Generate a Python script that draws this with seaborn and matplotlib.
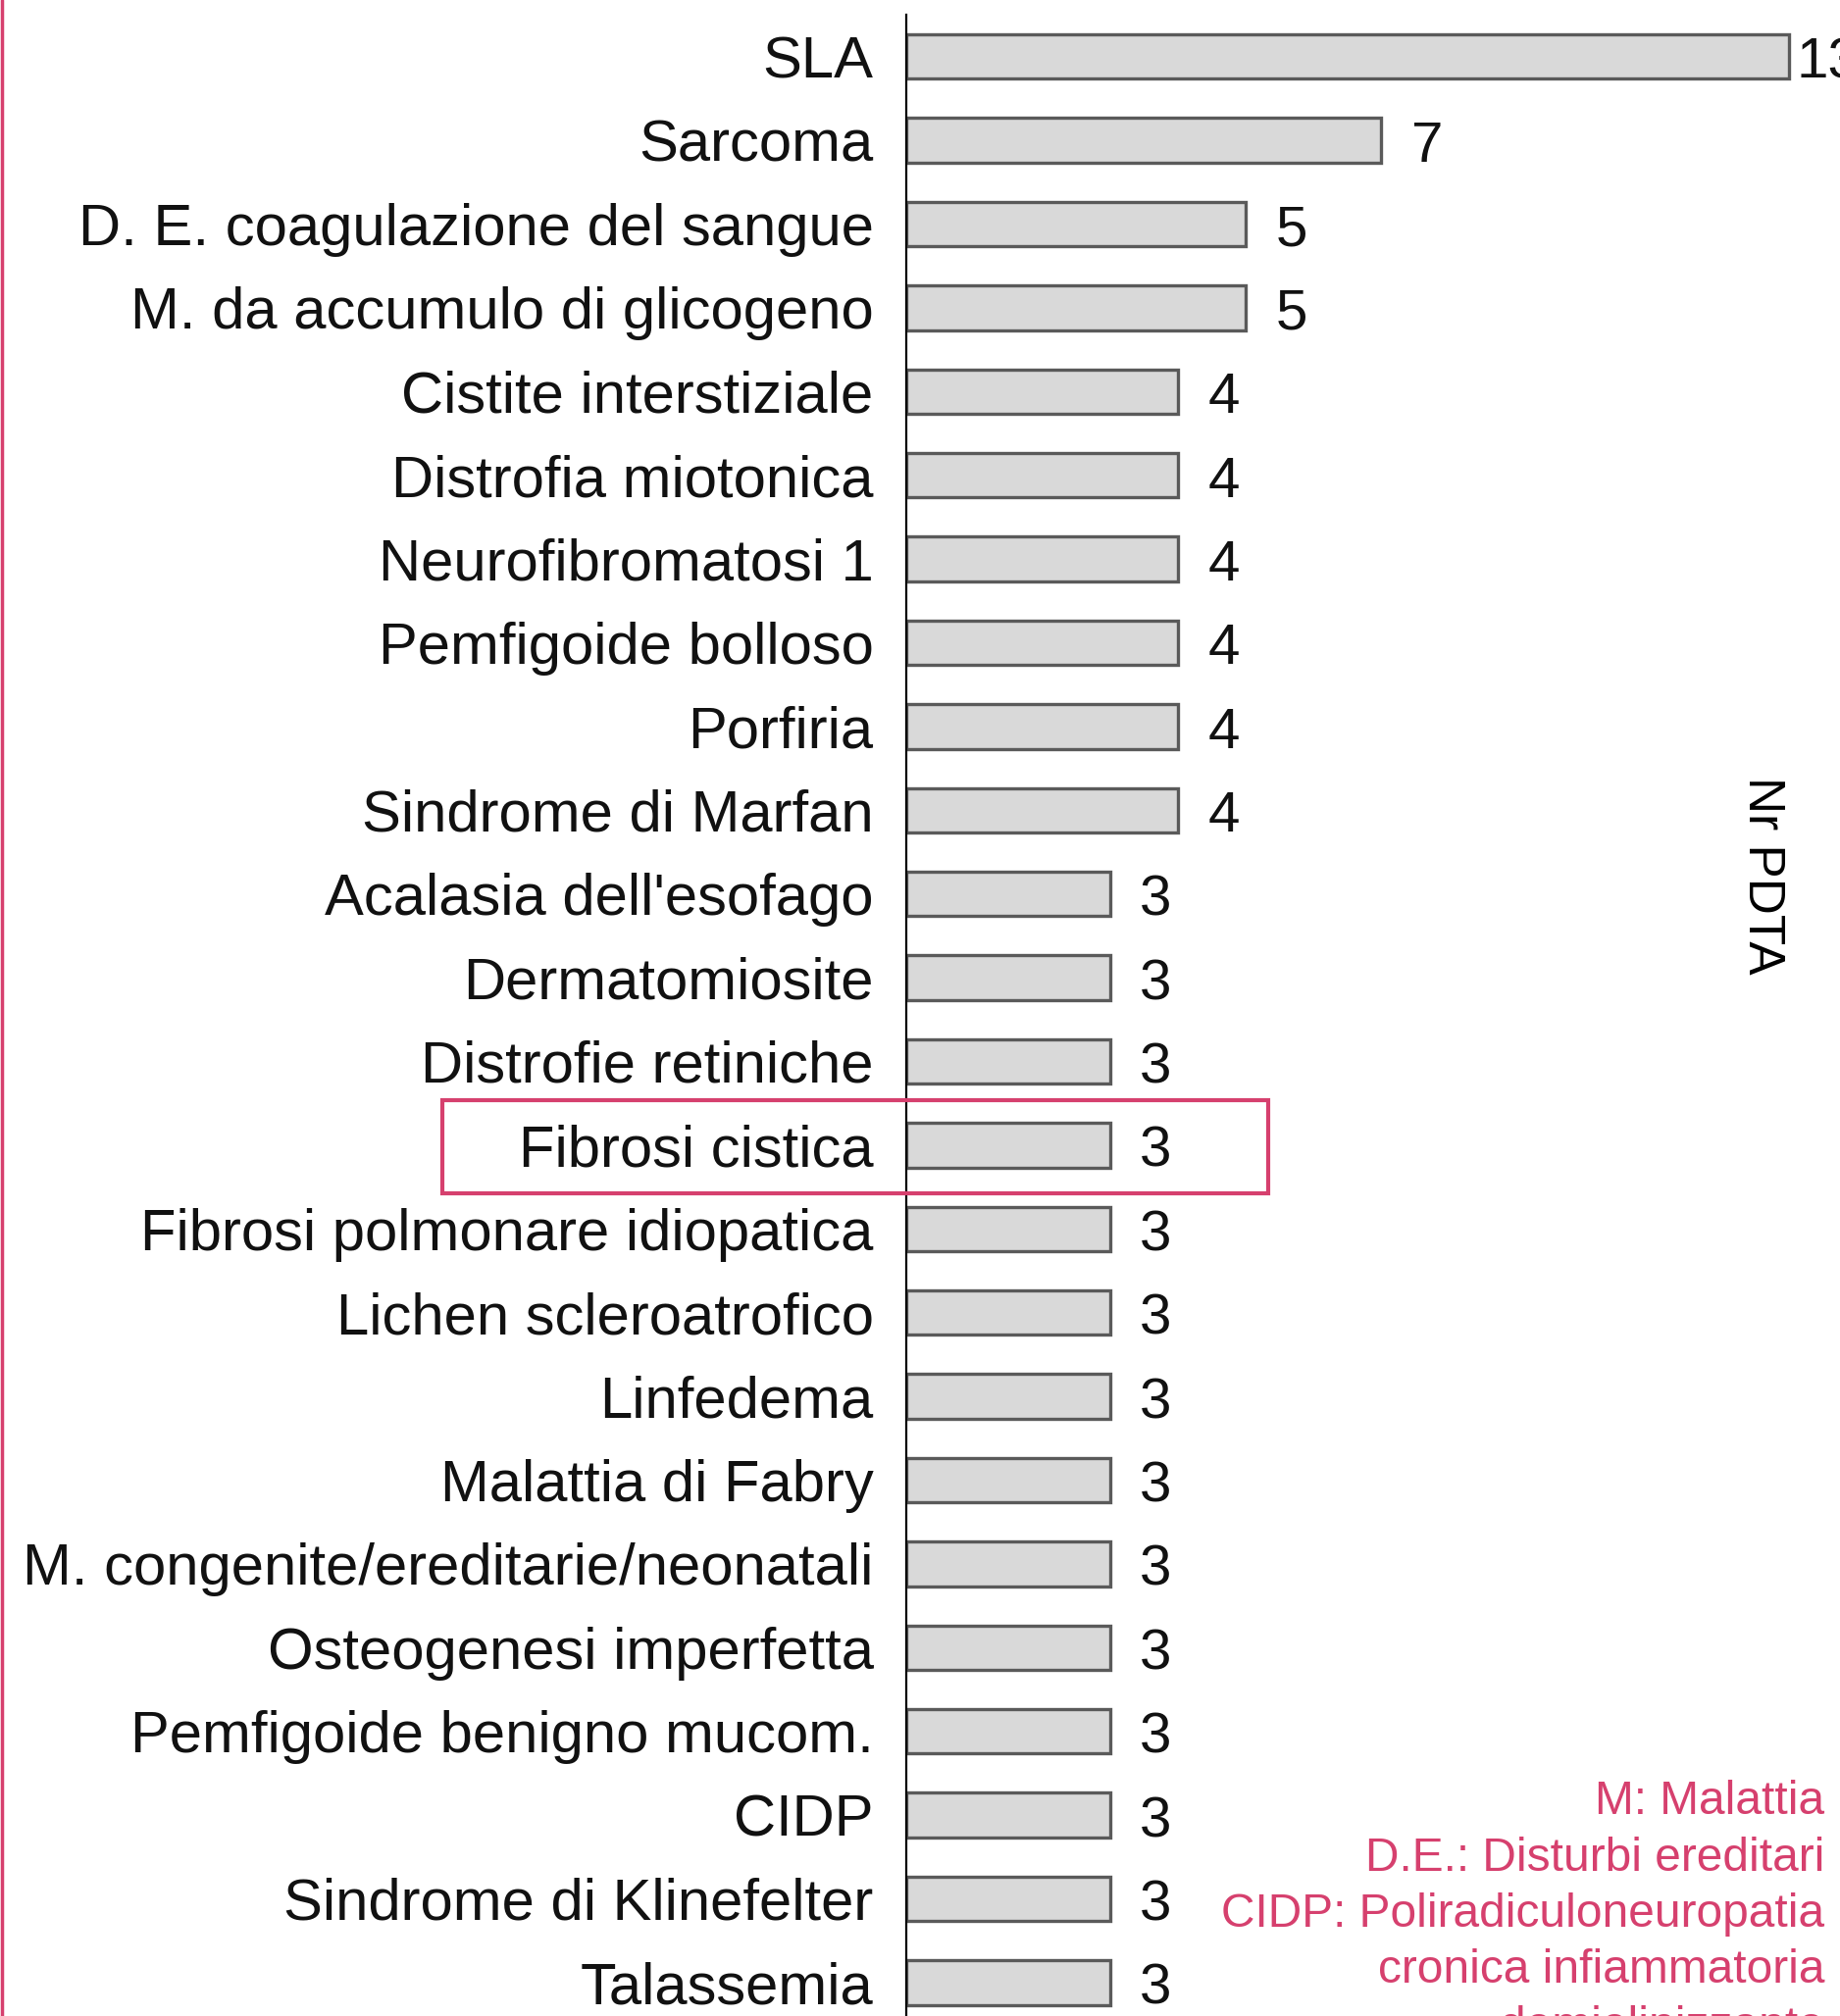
#!/usr/bin/env python3
# Horizontal bar chart: number of PDTA per rare disease

import matplotlib
matplotlib.use("Agg")
import matplotlib.pyplot as plt
from matplotlib.patches import Rectangle
from matplotlib.lines import Line2D
import seaborn as sns

# data
diseases = ["SLA", "Sarcoma", "D. E. coagulazione del sangue", "M. da accumulo di glicogeno",
            "Cistite interstiziale", "Distrofia miotonica", "Neurofibromatosi 1", "Pemfigoide bolloso",
            "Porfiria", "Sindrome di Marfan", "Acalasia dell'esofago", "Dermatomiosite",
            "Distrofie retiniche", "Fibrosi cistica", "Fibrosi polmonare idiopatica",
            "Lichen scleroatrofico", "Linfedema", "Malattia di Fabry",
            "M. congenite/ereditarie/neonatali", "Osteogenesi imperfetta",
            "Pemfigoide benigno mucom.", "CIDP", "Sindrome di Klinefelter", "Talassemia"]
nr_pdta = [13, 7, 5, 5, 4, 4, 4, 4, 4, 4, 3, 3, 3, 3, 3, 3, 3, 3, 3, 3, 3, 3, 3, 3]
highlighted = "Fibrosi cistica"
notes = ["M: Malattia", "D.E.: Disturbi ereditari", "CIDP: Poliradiculoneuropatia",
         "cronica infiammatoria", "demielinizzante"]

pink = "#d6406e"

sns.set_style("white")
plt.rcParams["font.family"] = ["Liberation Sans", "DejaVu Sans"]

W, H = 1876, 2056
fig = plt.figure(figsize=(W / 100, H / 100), dpi=100)

# axes placed in pixels: spine at x=924, rows 85.4 px apart, first row centred at y=57.7
row = 85.4
x0 = 924
px_per_unit = 69.2
xmax = 13.5
top = 57.7 - 0.5 * row
bottom = 57.7 + 23.5 * row
ax = fig.add_axes([x0 / W, 1 - bottom / H, xmax * px_per_unit / W, (bottom - top) / H])

sns.barplot(x=nr_pdta, y=diseases, orient="h", color="#d9d9d9", saturation=1,
            edgecolor="#5a5a5a", linewidth=2.4, width=0.53, ax=ax)

ax.set_xlim(0, xmax)
ax.set_ylim(23.5, -0.5)
ax.set_xlabel("")
ax.set_ylabel("")
ax.set_xticks([])
ax.tick_params(axis="y", length=0, pad=24, labelsize=43, labelcolor="#111111")
for side in ("top", "right", "bottom"):
    ax.spines[side].set_visible(False)
ax.spines["left"].set_color("black")
ax.spines["left"].set_linewidth(1.6)

# value labels, nudged down so the digits sit on the bar's centre line
vlabels = ax.bar_label(ax.containers[0], labels=[str(v) for v in nr_pdta], padding=22,
                       fontsize=42, color="#111111", clip_on=False)
for lab in vlabels:
    lab.xyann = (22, -5)
vlabels[0].xyann = (6, -5)  # the 13 sits closer to its bar

# highlight box round one row
i = diseases.index(highlighted)
ax.add_patch(Rectangle((-6.84, i - 0.54), 6.84 + 5.33, 1.11, fill=False,
                       edgecolor=pink, linewidth=3, clip_on=False, zorder=5))

# axis title on the right side
fig.text(1796 / W, 1 - 893 / H, "Nr PDTA", rotation=-90, ha="center", va="center",
         fontsize=37, color="black")

# abbreviation notes, bottom right
for k, line in enumerate(notes):
    fig.text(1860 / W, 1 - (1850 + 57.5 * k) / H, line, ha="right", va="baseline",
             fontsize=34.5, color=pink)

# pink rule at the left edge
fig.add_artist(Line2D([1.5 / W, 1.5 / W], [0, 1], color=pink, linewidth=2.5,
                      transform=fig.transFigure))

plt.savefig("out.png", dpi=100)
plt.close()
